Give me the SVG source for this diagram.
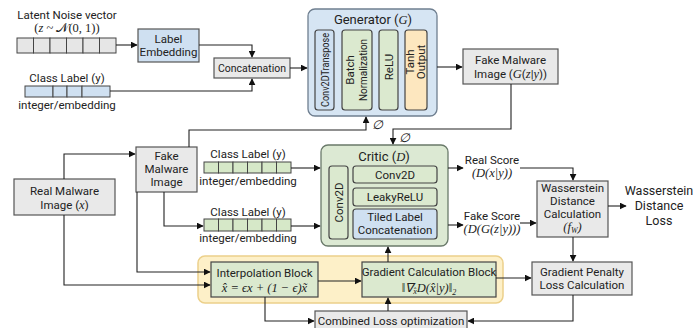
<svg xmlns="http://www.w3.org/2000/svg" width="697" height="328" viewBox="0 0 697 328">
<defs>
<marker id="ah" viewBox="0 0 10 10" refX="9" refY="5" markerWidth="7" markerHeight="7" markerUnits="userSpaceOnUse" orient="auto"><path d="M0,0 L10,5 L0,10 z" fill="#111"/></marker>
<style>
.t{font-family:Roboto,"Liberation Sans",sans-serif;font-size:11.5px;fill:#222;text-anchor:middle}
.h{font-size:13px}
.w{font-size:12.5px}
.m{font-family:"Liberation Serif",serif;font-style:italic;font-size:12.5px}
.s{font-family:"Liberation Serif",serif;font-size:12.5px}
.gray{fill:#e9e9e9;stroke:#555;stroke-width:1.2}
.blue{fill:#cfe0f1;stroke:#555;stroke-width:1.2}
.green{fill:#dbe9cf;stroke:#444;stroke-width:1.2}
.orange{fill:#fde7bf;stroke:#444;stroke-width:1.2}
.cellg{fill:#e6e6e6;stroke:#444;stroke-width:1}
.cellb{fill:#cfe0f1;stroke:#444;stroke-width:1}
.cellgr{fill:#d6e8c8;stroke:#444;stroke-width:1}
.c path{fill:none;stroke:#222;stroke-width:1.1;marker-end:url(#ah)}
</style>
</defs>
<rect width="697" height="328" fill="#fff"/>

<g id="band"><rect x="198" y="256" width="305" height="47" rx="7" fill="#fdf0c8" stroke="#ecd08a" stroke-width="1.5"/></g>

<g id="noise">
<text class="t" x="67" y="19">Latent Noise vector</text>
<text class="t s" x="67" y="32">(<tspan class="m">z</tspan> ~ 𝒩(0, 1))</text>
<rect class="cellg" x="17" y="38" width="16.5" height="15"/><rect class="cellg" x="33.5" y="38" width="16.5" height="15"/><rect class="cellg" x="50" y="38" width="16.5" height="15"/><rect class="cellg" x="66.5" y="38" width="16.5" height="15"/><rect class="cellg" x="83" y="38" width="16.5" height="15"/><rect class="cellg" x="99.5" y="38" width="16.5" height="15"/>
</g>

<g id="labelemb"><rect class="blue" x="138" y="29" width="61" height="33"/><text class="t" x="168.5" y="43">Label</text><text class="t" x="168.5" y="56">Embedding</text></g>

<g id="classlabel1">
<text class="t" x="67" y="82">Class Label (y)</text>
<rect class="cellb" x="25" y="86" width="28" height="11"/><rect class="cellb" x="53" y="86" width="14" height="11"/><rect class="cellb" x="67" y="86" width="15" height="11"/><rect class="cellb" x="82" y="86" width="28" height="11"/>
<text class="t" x="67" y="109">integer/embedding</text>
</g>

<g id="concat"><rect class="gray" x="214" y="58" width="76" height="20"/><text class="t" x="252" y="72" textLength="68" lengthAdjust="spacingAndGlyphs">Concatenation</text></g>

<g id="generator">
<rect x="308" y="9" width="129" height="107" rx="7" fill="#d6e5f3" stroke="#6f7f90" stroke-width="1.3"/>
<text class="t h" x="373" y="24">Generator (<tspan class="m">G</tspan>)</text>
<rect x="315" y="30" width="19" height="80" rx="3" fill="#cfe0f1" stroke="#444" stroke-width="1.2"/>
<text class="t" transform="translate(328.5,70) rotate(-90)" x="0" y="0" textLength="74" lengthAdjust="spacingAndGlyphs">Conv2DTranspose</text>
<rect class="green" x="342" y="30" width="30" height="80" rx="3"/>
<text class="t" transform="translate(354,70) rotate(-90)" x="0" y="0">Batch</text>
<text class="t" transform="translate(367,70) rotate(-90)" x="0" y="0" textLength="62" lengthAdjust="spacingAndGlyphs">Normalization</text>
<rect class="green" x="379" y="30" width="19" height="80" rx="3"/>
<text class="t" transform="translate(392.5,67) rotate(-90)" x="0" y="0">ReLU</text>
<rect class="orange" x="405" y="30" width="22" height="80" rx="3"/>
<text class="t" transform="translate(414,62) rotate(-90)" x="0" y="0">Tanh</text>
<text class="t" transform="translate(425,62) rotate(-90)" x="0" y="0">Output</text>
</g>

<g id="fakeG"><rect class="gray" x="463" y="49" width="95" height="35"/><text class="t" x="510.5" y="64">Fake Malware</text><text class="t" x="510.5" y="78">Image (<tspan class="m">G</tspan>(<tspan class="m">z</tspan>|<tspan class="m">y</tspan>))</text></g>

<g id="real"><rect class="gray" x="14" y="179" width="101" height="36"/><text class="t" x="64.5" y="195">Real Malware</text><text class="t" x="64.5" y="209">Image (<tspan class="m">x</tspan>)</text></g>

<g id="fakemid"><rect class="gray" x="136" y="147" width="61" height="45"/><text class="t" x="166.5" y="160">Fake</text><text class="t" x="166.5" y="173">Malware</text><text class="t" x="166.5" y="186">Image</text></g>

<g id="classlabel2">
<text class="t" x="248" y="158">Class Label (y)</text>
<rect class="cellgr" x="204" y="162" width="14.5" height="11"/><rect class="cellgr" x="218.5" y="162" width="14.5" height="11"/><rect class="cellgr" x="233" y="162" width="14.5" height="11"/><rect class="cellgr" x="247.5" y="162" width="14.5" height="11"/><rect class="cellgr" x="262" y="162" width="14.5" height="11"/><rect class="cellgr" x="276.5" y="162" width="14.5" height="11"/>
<text class="t" x="248" y="185">integer/embedding</text>
</g>

<g id="classlabel3">
<text class="t" x="248" y="216">Class Label (y)</text>
<rect class="cellgr" x="204" y="219" width="14.5" height="12"/><rect class="cellgr" x="218.5" y="219" width="14.5" height="12"/><rect class="cellgr" x="233" y="219" width="14.5" height="12"/><rect class="cellgr" x="247.5" y="219" width="14.5" height="12"/><rect class="cellgr" x="262" y="219" width="14.5" height="12"/><rect class="cellgr" x="276.5" y="219" width="14.5" height="12"/>
<text class="t" x="248" y="242">integer/embedding</text>
</g>

<g id="critic">
<rect x="321" y="145" width="127" height="101" rx="7" fill="#dce9d3" stroke="#6a7a6a" stroke-width="1.3"/>
<text class="t h" x="384" y="161">Critic (<tspan class="m">D</tspan>)</text>
<rect class="green" x="329" y="166" width="19" height="73" rx="3"/>
<text class="t" transform="translate(342.5,202.5) rotate(-90)" x="0" y="0">Conv2D</text>
<rect class="green" x="353" y="166" width="84" height="17" rx="3"/><text class="t" x="395" y="179">Conv2D</text>
<rect class="green" x="353" y="188" width="84" height="18" rx="3"/><text class="t" x="395" y="201">LeakyReLU</text>
<rect x="353" y="209" width="84" height="30" rx="3" fill="#cfe0f1" stroke="#444" stroke-width="1.2"/><text class="t" x="395" y="221">Tiled Label</text><text class="t" x="395" y="234">Concatenation</text>
</g>

<g id="scores">
<text class="t" x="492" y="164">Real Score</text>
<text class="t m" x="492" y="177">(D(x|y))</text>
<text class="t" x="492" y="220">Fake Score</text>
<text class="t m" x="492" y="233">(D(G(z|y)))</text>
</g>

<g id="wass"><rect class="gray" x="537" y="181" width="71" height="56"/><text class="t" x="572.5" y="192">Wasserstein</text><text class="t" x="572.5" y="205">Distance</text><text class="t" x="572.5" y="218">Calculation</text><text class="t m" x="572.5" y="231">(f<tspan font-size="8" dy="2">W</tspan><tspan dy="-2">)</tspan></text></g>

<g id="wloss"><text class="t w" x="659" y="195">Wasserstein</text><text class="t w" x="659" y="210">Distance</text><text class="t w" x="659" y="225">Loss</text></g>

<g id="interp"><rect class="green" x="211" y="262" width="107" height="35"/><text class="t" x="264.5" y="277">Interpolation Block</text><text class="t m" x="264.5" y="292">x̂ = ϵx + (1 − ϵ)x̃</text></g>

<g id="gradcalc"><rect class="green" x="362" y="262" width="134" height="35"/><text class="t" x="429" y="276">Gradient Calculation Block</text><text class="t m" x="429" y="292">‖∇<tspan font-size="8" dy="2">x̂</tspan><tspan dy="-2">D(x̂|y)‖</tspan><tspan font-size="8" dy="3">2</tspan></text></g>

<g id="gp"><rect class="gray" x="532" y="262" width="100" height="33"/><text class="t" x="582" y="276">Gradient Penalty</text><text class="t" x="582" y="289">Loss Calculation</text></g>

<g id="combined"><rect class="gray" x="315" y="311" width="152" height="18"/><text class="t" x="391" y="325">Combined Loss optimization</text></g>

<g id="connectors" class="c">
<path d="M116,45 H137"/>
<path d="M199,45 H252 V57"/>
<path d="M110,91 H252 V79"/>
<path d="M290,68 H307"/>
<path d="M437,67 H462"/>
<path d="M511,84 V129 H393 V144"/>
<path d="M189,147 V130 H366 V117"/>
<path d="M64,179 V154 H135"/>
<path d="M164,192 V226 H203"/>
<path d="M291,168 H320"/>
<path d="M291,226 H320"/>
<path d="M448,168 H463"/>
<path d="M448,225 H463"/>
<path d="M520,168 H573 V180"/>
<path d="M520,223 H536"/>
<path d="M608,206 H626"/>
<path d="M573,237 V261"/>
<path d="M64,215 V285 H210"/>
<path d="M137,192 V272 H210"/>
<path d="M318,281 H361"/>
<path d="M388,262 V247"/>
<path d="M496,278 H531"/>
<path d="M265,297 V321 H314"/>
<path d="M573,295 V321 H468"/>
<path d="M388,311 V298"/>
</g>
<g id="nulls"><text class="t m" x="377" y="129">∅</text><text class="t m" x="404" y="142">∅</text></g>
</svg>
